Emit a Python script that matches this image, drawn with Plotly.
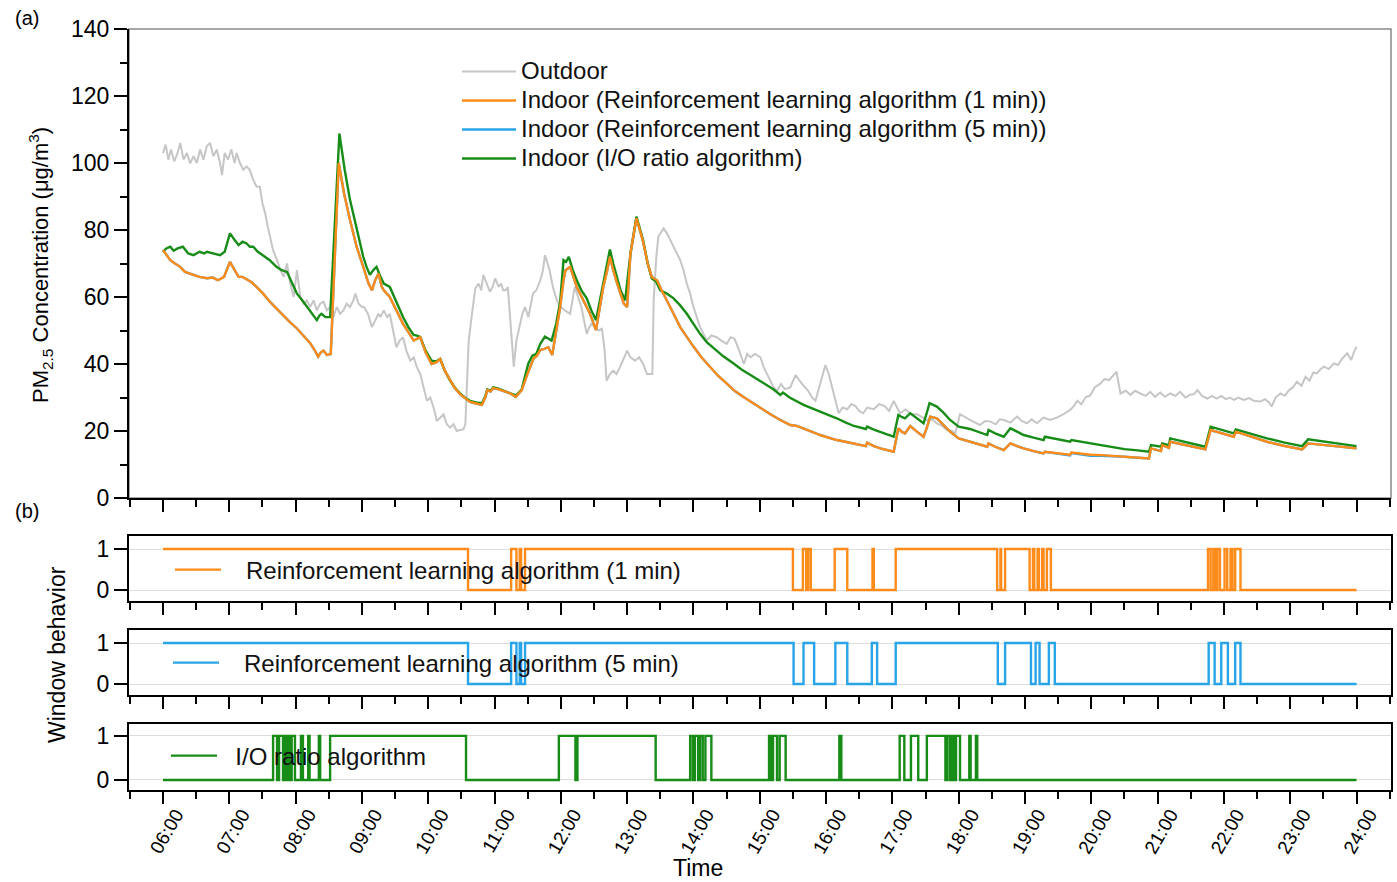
import plotly.graph_objects as go

# ---------------- data (hours of day) ----------------
OUT_T = [6.00,6.04,6.08,6.12,6.17,6.22,6.26,6.31,6.36,6.41,6.46,6.51,6.56,6.61,6.66,6.71,6.76,6.81,6.86,6.89,
         6.93,6.98,7.03,7.08,7.11,7.16,7.21,7.26,7.31,7.36,7.41,7.46,7.50,7.54,7.58,7.61,7.66,7.72,7.77,7.82,
         7.87,7.92,7.97,8.02,8.07,8.12,8.17,8.22,8.27,8.32,8.37,8.42,8.47,8.52,8.57,8.62,8.67,8.72,8.77,8.82,
         8.87,8.90,8.95,9.00,9.03,9.09,9.15,9.20,9.25,9.28,9.33,9.38,9.42,9.47,9.52,9.57,9.62,9.67,9.73,9.78,
         9.83,9.88,9.93,9.98,10.03,10.08,10.13,10.18,10.23,10.28,10.33,10.38,10.43,10.48,10.53,10.56,10.61,10.66,10.71,10.76,
         10.80,10.83,10.88,10.93,10.97,11.01,11.06,11.10,11.13,11.17,11.20,11.25,11.29,11.33,11.37,11.42,11.46,11.51,11.55,11.58,
         11.63,11.69,11.73,11.76,11.80,11.83,11.88,11.94,12.00,12.06,12.14,12.18,12.21,12.26,12.31,12.35,12.39,12.43,12.46,12.52,
         12.57,12.62,12.66,12.69,12.74,12.79,12.84,12.89,12.95,13.00,13.05,13.12,13.18,13.24,13.30,13.38,13.40,13.44,13.47,13.55,
         13.60,13.65,13.70,13.75,13.80,13.85,13.90,13.95,14.00,14.05,14.10,14.15,14.20,14.27,14.35,14.42,14.50,14.56,14.62,14.69,
         14.76,14.81,14.86,14.93,15.01,15.06,15.11,15.16,15.21,15.26,15.32,15.38,15.46,15.54,15.60,15.64,15.73,15.79,15.84,15.90,
         15.95,15.99,16.04,16.09,16.14,16.19,16.25,16.32,16.38,16.44,16.50,16.56,16.62,16.72,16.80,16.88,16.95,17.02,17.07,17.12,
         17.20,17.28,17.37,17.45,17.52,17.60,17.67,17.75,17.82,17.90,17.95,18.02,18.10,18.17,18.25,18.32,18.40,18.48,18.56,18.62,
         18.68,18.78,18.88,18.95,19.03,19.10,19.18,19.28,19.38,19.48,19.58,19.68,19.74,19.79,19.85,19.92,19.98,20.05,20.14,20.20,
         20.27,20.33,20.38,20.44,20.52,20.59,20.66,20.74,20.82,20.89,20.96,21.04,21.11,21.19,21.27,21.34,21.42,21.49,21.55,21.60,
         21.67,21.75,21.82,21.89,21.96,22.03,22.09,22.15,22.22,22.30,22.38,22.45,22.55,22.62,22.68,22.72,22.78,22.85,22.92,22.98,
         23.04,23.10,23.17,23.23,23.29,23.35,23.40,23.46,23.51,23.58,23.66,23.72,23.78,23.86,23.92,23.96,24.00]
OUT_V = [102.9,105.5,101,104,100.5,103,106,101,103,99.9,102,100,104,101,105,106,102,104,100,96.4,
         103,101,104,100,103,100,98,99,97.9,95,93,92.9,88,85,81,78,74,71,68,66,
         70,64,60,68,60,58,59,57,59,56,58,58.6,56,57,54,57,55,56,58,57,
         59,61,58,57,57,55,51,53,55,54,56,54,55,50,45,47,48,44,41,42,
         39,37,33,29,30,27,23,24,25,22,21,22,20,20.3,20.5,22,47,55,62.6,64,
         62,66.6,64,61.6,63,65.6,63,64,62,62,63,50,39.2,47,51,55,57,54,58,61,
         62,65,68,72.5,70,68,63,59,57,56,55,59,63,60,57,53,49,51,52,51,
         50,50.5,44,35,37,38,37,39,42,44,42,41,42,40,37,37,59,72,78,80.5,
         79,77,75,73,71,68,64,61,57,54,51,49,47,48.5,48,47,46,48,47.5,44,
         40,43,42,43,42,39,37,35,33,32,34,32.5,33,36.7,35,34,32,30,29,33,
         37,39.7,37,33,29,25.3,27,26.5,28,27.5,26,25.3,27,26.5,28,27.5,26,29,27,25.3,
         26.5,25,25,24,23.3,23.5,22.3,21.5,20.3,20,19.3,25,24,23.3,22.5,21.8,23,22.8,22,23.5,
         23.3,22.5,24.3,23,22.3,23.5,22.3,24,23.3,24,25,26.3,27.5,29,28,30.2,30.5,33,34.2,35.5,
         35.2,36.5,37.7,31.2,32,30.8,32,31.2,30.5,31.7,30.2,31.5,30.2,31.2,30.5,31.7,30,30.8,31,32.2,
         30.5,29.7,30.5,29.7,30.5,29.5,30,29.3,30,29.3,29.8,29,28.8,29.5,28.5,27.3,30,31.2,30.5,32.2,
         33,34.7,33.5,36.2,35,37.5,37.2,38.5,39.2,38.5,40.2,39.7,41.5,43.2,41.2,43.5,45.2]

RL1_T = [6.00,6.05,6.11,6.18,6.26,6.33,6.40,6.46,6.55,6.66,6.75,6.83,6.92,6.97,7.01,7.08,7.14,7.20,7.26,7.33,
         7.41,7.51,7.61,7.71,7.81,7.91,8.02,8.12,8.22,8.29,8.34,8.38,8.42,8.47,8.53,8.65,8.73,8.82,8.92,9.02,
         9.10,9.15,9.20,9.25,9.30,9.33,9.42,9.52,9.62,9.70,9.78,9.83,9.88,9.96,10.05,10.12,10.18,10.25,10.33,10.40,
         10.48,10.55,10.63,10.72,10.81,10.86,10.89,10.94,10.98,11.05,11.12,11.18,11.24,11.32,11.37,11.41,11.49,11.54,11.59,11.64,
         11.69,11.75,11.81,11.87,11.93,11.99,12.04,12.07,12.14,12.19,12.24,12.34,12.44,12.53,12.58,12.64,12.70,12.74,12.79,12.84,
         12.95,13.00,13.05,13.14,13.24,13.31,13.37,13.45,13.52,13.60,13.70,13.80,13.90,14.00,14.12,14.25,14.37,14.50,14.62,14.75,
         14.88,15.01,15.16,15.31,15.46,15.56,15.66,15.78,15.91,16.03,16.16,16.29,16.42,16.60,16.62,16.72,16.82,16.92,17.02,17.09,
         17.14,17.19,17.27,17.37,17.47,17.52,17.57,17.67,17.77,17.87,18.00,18.17,18.30,18.43,18.45,18.55,18.68,18.78,18.88,18.98,
         19.13,19.28,19.30,19.50,19.68,19.70,19.85,19.99,20.16,20.33,20.50,20.70,20.87,20.90,21.05,21.07,21.17,21.19,21.45,21.72,
         21.80,21.98,22.15,22.18,22.40,22.65,22.90,23.18,23.27,23.60,24.00]
RL1_V = [74,72.5,71,70,69,67.5,67,66.6,66,65.6,65.8,65,66,68.5,70.5,68,66,66,65.3,64.5,
         63,61,58.6,56.5,54.6,52.6,50.6,48.4,46.2,44,42.2,43.5,44,42.7,43,100,91,83,75,69,
         64,62,65,67,63,62,60,56,52,49.5,47,47.5,48,43.5,40,40.5,41.5,38,35,32.8,
         31,30,28.7,28.2,27.8,30,32.2,31.8,32.8,32.5,32,31.5,31.2,30.2,31.2,32.2,36.7,39.5,41.7,42.5,
         44.2,44.5,45,42.7,50,57,65,68,69,66,63,59,55,50.1,56,63,68,72,68,64.6,
         58,57,73,83.5,76.5,70,66,65,62,59,55,51,48,45.2,42,39.2,36.5,34.2,32,30.2,
         28.5,26.8,25,23.3,21.8,21.5,20.8,19.8,18.8,18,17.3,16.8,16.3,15.5,16.5,15.5,14.8,14.3,13.8,20.8,
         19.8,19.3,21.5,19.8,18.3,21,24.3,23.8,21.8,19.8,17.8,16.8,16,15.3,16.3,15.3,14.3,16.3,15.5,14.8,
         14,13.3,13.8,13.3,12.9,13.6,13.2,12.9,12.8,12.6,12.3,12,11.8,14.8,14,15.8,15,16.8,15.6,14.5,
         20.3,19.2,18.3,19.8,18.5,16.8,15.6,14.5,16.3,15.6,14.8]
RL5_V = [74,72.5,71,70,69,67.5,67,66.6,66,65.6,65.8,65,66,68.5,70.5,68,66,66,65.3,64.5,
         63,61,58.6,56.5,54.6,52.6,50.6,48.4,46.2,44,42.2,43.5,44,42.7,43,100,91,83,75,69,
         64,62,65,67,63,62,60,56,52,49.5,47,47.5,48,43.5,40,40.5,41.5,38,35,32.8,
         31,30,28.7,28.2,27.8,30,32.2,31.8,32.8,32.5,32,31.5,31.2,30.2,31.2,32.2,36.7,39.5,41.7,42.5,
         44.2,44.5,45,42.7,50,57,65,68,69,66,63,59,55,50.1,56,63,68,72,68,64.6,
         58,57,73,83.5,76.5,70,66,65,62,59,55,51,48,45.2,42,39.2,36.5,34.2,32,30.2,
         28.5,26.8,25,23.3,21.8,21.5,20.8,19.8,18.8,18,17.3,16.8,16.3,15.5,16.5,15.5,14.8,14.3,13.8,20.8,
         19.8,19.3,21.5,19.8,18.3,21,24.3,23.8,21.8,19.8,17.8,16.8,16,15.3,16.3,15.3,14.3,16.3,15.5,14.8,
         14,13.3,13.8,13.2,12.7,13.4,12.9,12.6,12.6,12.5,12.3,12,11.8,14.8,14,15.8,15,16.8,15.6,14.5,
         20.3,19.2,18.3,19.8,18.5,16.8,15.6,14.5,16.3,15.6,14.8]

IO_T = [6.00,6.05,6.11,6.16,6.22,6.30,6.38,6.46,6.55,6.62,6.66,6.75,6.86,6.93,6.97,7.01,7.08,7.14,7.20,7.26,
        7.31,7.36,7.43,7.51,7.61,7.71,7.79,7.87,7.95,8.02,8.10,8.17,8.25,8.32,8.36,8.39,8.45,8.52,8.66,8.74,
        8.82,8.92,9.02,9.07,9.12,9.17,9.22,9.28,9.33,9.42,9.52,9.62,9.70,9.78,9.83,9.88,9.96,10.05,10.12,10.18,
        10.25,10.33,10.40,10.48,10.55,10.63,10.72,10.81,10.86,10.89,10.94,10.98,11.05,11.12,11.18,11.24,11.32,11.37,11.41,11.51,
        11.57,11.63,11.69,11.76,11.81,11.86,11.93,11.99,12.04,12.08,12.12,12.18,12.24,12.31,12.39,12.46,12.53,12.58,12.64,12.70,
        12.74,12.79,12.84,12.90,12.97,13.05,13.14,13.24,13.31,13.37,13.44,13.50,13.60,13.66,13.70,13.80,13.90,14.00,14.10,14.20,
        14.30,14.45,14.60,14.73,14.86,14.98,15.11,15.21,15.31,15.35,15.45,15.56,15.66,15.78,15.91,16.03,16.16,16.29,16.42,16.60,
        16.62,16.72,16.82,16.92,17.02,17.09,17.14,17.19,17.27,17.37,17.47,17.52,17.56,17.67,17.77,17.87,18.00,18.17,18.30,18.43,
        18.45,18.55,18.68,18.78,18.88,18.98,19.13,19.28,19.30,19.50,19.68,19.70,19.85,19.99,20.16,20.33,20.50,20.70,20.87,20.90,
        21.05,21.07,21.17,21.19,21.45,21.72,21.80,21.98,22.15,22.18,22.40,22.65,22.90,23.18,23.27,23.60,24.00]
IO_V = [73.5,74.5,75,73.8,74.5,75,73,72.5,73.5,73,73.5,73,72.5,73.5,76,79,77,75.5,76.5,76,
        75,75,73.5,72.5,71,69,68,67.5,64,61,59,57,55,53.1,54.5,55,54,54,108.8,98,
        89,80,72,69,66.6,68,69,66,64,63,58.5,54,51,48.7,48.5,48,44,41,40.8,41.5,
        38,35,33,31.2,30,29,28.5,28.3,30.3,32.4,32,33,32.7,32.2,31.7,31.4,30.6,31.5,32.5,40.2,
        42.5,43,46,48.2,47.5,47,52,58.6,71,70.5,72,68,65,62,59.6,56,53.1,58,65,70,
        74.2,70,66,62,59,73,84,77,70,65.6,64.5,62,61,60.3,59.6,57.5,55,52,49,46.5,
        44.7,42.3,40.2,38.3,36.7,35.2,33.8,32.4,30.8,31.5,30,28.8,27.8,26.8,25.8,24.8,23.8,22.6,21.5,20.6,
        21.3,20.4,19.8,19,18.3,24.8,24.2,23.8,25.3,23.8,22.3,25.5,28.3,27.3,25.5,23.3,21.3,20.6,19.6,18.8,
        20.3,19.3,18.3,20.8,19.8,18.8,18,17.3,18.3,17.6,16.8,17.3,16.8,16.3,15.6,15.1,14.6,14.2,13.8,15.8,
        15.3,16.3,15.8,17.8,16.5,15.3,21.3,20.2,19.3,20.5,19.2,17.8,16.6,15.5,17.5,16.5,15.5]

# window state change times and states (1 = open, 0 = closed)
WIN_RL1_T = [6.00,10.60,11.25,11.33,11.38,11.40,11.46,15.50,15.65,15.70,15.73,15.77,16.13,16.32,16.70,16.72,17.05,
             18.58,18.63,18.64,18.70,19.07,19.12,19.14,19.19,19.21,19.26,19.28,19.33,19.39,
             21.76,21.80,21.84,21.87,21.90,21.94,22.01,22.05,22.10,22.13,22.17,22.25,24.00]
WIN_RL1_S = [1,0,1,0,1,0,1,0,1,0,1,0,1,0,1,0,1,
             0,1,0,1,0,1,0,1,0,1,0,1,0,
             1,0,1,0,1,0,1,0,1,0,1,0,0]
WIN_RL5_T = [6.00,10.60,11.25,11.33,11.38,11.40,11.46,15.51,15.66,15.82,16.14,16.32,16.69,16.77,17.05,
             18.59,18.70,19.09,19.16,19.22,19.36,19.45,21.77,21.86,21.96,22.06,22.17,22.25,24.00]
WIN_RL5_S = [1,0,1,0,1,0,1,0,1,0,1,0,1,0,1,
             0,1,0,1,0,1,0,1,0,1,0,1,0,0]
WIN_IO_T = [6.00,7.66,7.72,7.75,7.81,7.83,7.86,7.89,7.92,7.94,7.99,8.08,8.11,8.19,8.21,8.35,8.37,8.52,
            10.57,11.97,12.22,12.25,13.43,13.95,13.99,14.02,14.07,14.10,14.14,14.18,14.27,
            15.14,15.17,15.20,15.26,15.30,15.39,16.20,16.23,17.11,17.18,17.28,17.39,17.52,17.80,
            17.83,17.87,17.90,17.93,17.96,18.02,18.16,18.18,18.26,18.28,24.00]
WIN_IO_S = [0,1,0,1,0,1,0,1,0,1,0,1,0,1,0,1,0,1,
            0,1,0,1,0,1,0,1,0,1,0,1,0,
            1,0,1,0,1,0,1,0,1,0,1,0,1,0,
            1,0,1,0,1,0,1,0,1,0,0]

HOUR_TICKS = list(range(6, 25))
HOUR_LABELS = ["%02d:00" % h for h in HOUR_TICKS]
HALF_TICKS = [h + 0.5 for h in range(5, 25)]

C_OUT = "#c6c6c6"
C_RL1 = "#ff8c1a"
C_RL5 = "#2aa4e8"
C_IO = "#178c17"
FONT = "Liberation Sans, Arial, sans-serif"
LEG_TXT = "<span style='font-size:24px'>%s</span>"

W, H = 1397, 882
def px_x(p): return p / W
def px_y(p): return 1 - p / H

fig = go.Figure()
fig.add_trace(go.Scatter(x=OUT_T, y=OUT_V, mode="lines", name=LEG_TXT % "Outdoor", line=dict(color=C_OUT, width=2),
                         legendrank=1, xaxis="x", yaxis="y", legend="legend"))
fig.add_trace(go.Scatter(x=RL1_T, y=RL5_V, mode="lines",
                         name=LEG_TXT % "Indoor (Reinforcement learning algorithm (5 min))",
                         line=dict(color=C_RL5, width=2.4), legendrank=3, xaxis="x", yaxis="y", legend="legend"))
fig.add_trace(go.Scatter(x=IO_T, y=IO_V, mode="lines", name=LEG_TXT % "Indoor (I/O ratio algorithm)",
                         line=dict(color=C_IO, width=2.4), legendrank=4, xaxis="x", yaxis="y", legend="legend"))
fig.add_trace(go.Scatter(x=RL1_T, y=RL1_V, mode="lines",
                         name=LEG_TXT % "Indoor (Reinforcement learning algorithm (1 min))",
                         line=dict(color=C_RL1, width=2.4), legendrank=2, xaxis="x", yaxis="y", legend="legend"))

fig.add_trace(go.Scatter(x=WIN_RL1_T, y=WIN_RL1_S, mode="lines", line_shape="hv",
                         name="&nbsp;&nbsp;&nbsp;Reinforcement learning algorithm (1 min)", line=dict(color=C_RL1, width=2.4),
                         xaxis="x2", yaxis="y2", legend="legend2"))
fig.add_trace(go.Scatter(x=WIN_RL5_T, y=WIN_RL5_S, mode="lines", line_shape="hv",
                         name="&nbsp;&nbsp;&nbsp;Reinforcement learning algorithm (5 min)", line=dict(color=C_RL5, width=2.4),
                         xaxis="x3", yaxis="y3", legend="legend3"))
fig.add_trace(go.Scatter(x=WIN_IO_T, y=WIN_IO_S, mode="lines", line_shape="hv",
                         name="&nbsp;&nbsp;I/O ratio algorithm", line=dict(color=C_IO, width=2.4),
                         xaxis="x4", yaxis="y4", legend="legend4"))

XR = [5.487, 24.52]
xdom = [px_x(129), px_x(1391)]

def xaxis(anchor, labels=False):
    d = dict(domain=xdom, range=XR, anchor=anchor, showgrid=False, zeroline=False,
             showline=True, linecolor="black", linewidth=2,
             tickmode="array", tickvals=HOUR_TICKS, ticktext=HOUR_LABELS,
             ticks="outside", ticklen=12, tickwidth=2, tickcolor="black",
             showticklabels=labels,
             minor=dict(tickmode="array", tickvals=HALF_TICKS, ticks="outside", ticklen=7,
                        tickwidth=2, tickcolor="black", showgrid=False),
             automargin=False, tickfont=dict(size=19, color="black", family=FONT))
    return d

def win_yaxis(anchor, top, bottom, rng):
    return dict(domain=[px_y(bottom), px_y(top)], range=rng, anchor=anchor,
                tickmode="array", tickvals=[0, 1], ticktext=["0", "1"],
                ticks="outside", ticklen=13, tickwidth=2, tickcolor="black",
                showline=True, linecolor="black", linewidth=2, mirror=True,
                showgrid=True, gridcolor="#dddddd", gridwidth=1, zeroline=False,
                automargin=False, tickfont=dict(size=23, color="black", family=FONT))

xa1 = xaxis("y")
xa2 = xaxis("y2"); xa3 = xaxis("y3")
xa4 = xaxis("y4", labels=True)
xa4["tickangle"] = -60
xa4["ticklabelshift"] = 13
xa4["ticklabelstandoff"] = -8
for a in (xa2, xa3, xa4):
    a["mirror"] = True

fig.update_layout(
    width=W, height=H, autosize=False,
    margin=dict(l=0, r=0, t=0, b=0),
    paper_bgcolor="white", plot_bgcolor="white",
    font=dict(family=FONT, color="black", size=22),
    xaxis=xa1, xaxis2=xa2, xaxis3=xa3, xaxis4=xa4,
    yaxis=dict(domain=[px_y(498), px_y(29)], range=[0, 140], anchor="x",
               tickmode="linear", tick0=0, dtick=20,
               ticks="outside", ticklen=13, tickwidth=2, tickcolor="black",
               minor=dict(tickmode="linear", tick0=10, dtick=20, ticks="outside", ticklen=7,
                          tickwidth=2, tickcolor="black", showgrid=False),
               showline=True, linecolor="black", linewidth=2, showgrid=False, zeroline=False,
               automargin=False, tickfont=dict(size=23, color="black", family=FONT)),
    yaxis2=win_yaxis("x2", 536, 601, [-0.268, 1.317]),
    yaxis3=win_yaxis("x3", 630, 695, [-0.268, 1.317]),
    yaxis4=win_yaxis("x4", 724, 790, [-0.227, 1.27]),
    legend=dict(x=px_x(457), y=px_y(52), xanchor="left", yanchor="top", bgcolor="rgba(0,0,0,0)",
                font=dict(size=20, family=FONT, color="#111"), itemwidth=54, tracegroupgap=0),
    legend2=dict(x=px_x(170), y=px_y(570), xanchor="left", yanchor="middle", bgcolor="rgba(0,0,0,0)",
                 font=dict(size=24, family=FONT, color="#111"), itemwidth=46),
    legend3=dict(x=px_x(168), y=px_y(663), xanchor="left", yanchor="middle", bgcolor="rgba(0,0,0,0)",
                 font=dict(size=24, family=FONT, color="#111"), itemwidth=46),
    legend4=dict(x=px_x(166), y=px_y(756), xanchor="left", yanchor="middle", bgcolor="rgba(0,0,0,0)",
                 font=dict(size=24, family=FONT, color="#111"), itemwidth=46),
    showlegend=True,
)

# light frame on top/right of panel (a)
fig.add_shape(type="rect", xref="x domain", yref="y domain", x0=0, x1=1, y0=0, y1=1,
              line=dict(color="#8a8a8a", width=1.5), layer="below")

def ann(text, x, y, size, angle=0):
    fig.add_annotation(text=text, xref="paper", yref="paper", x=px_x(x), y=px_y(y),
                       xanchor="center", yanchor="middle", textangle=angle, showarrow=False,
                       font=dict(size=size, family=FONT, color="black"))

ann("PM<sub>2.5</sub> Concentration (μg/m<sup>3</sup>)", 40, 265, 22, -90)
ann("Window behavior", 57, 655, 23, -90)
ann("Time", 698, 868, 23)
ann("(a)", 27, 18, 20)
ann("(b)", 27, 511, 20)

fig.write_html("out.html")
